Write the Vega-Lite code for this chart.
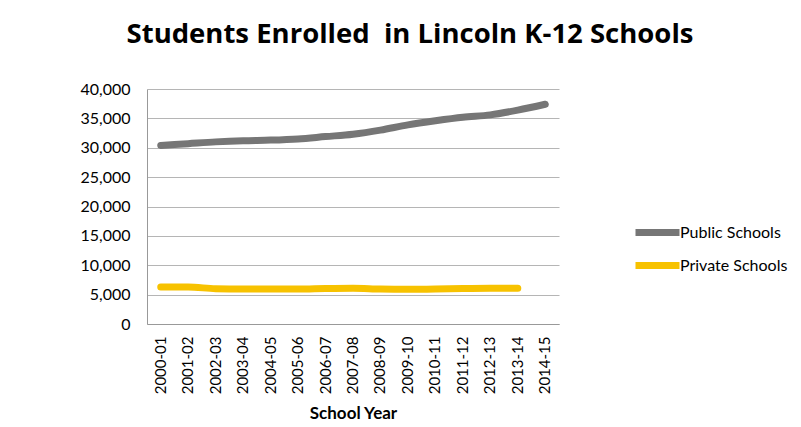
{
  "$schema": "https://vega.github.io/schema/vega-lite/v6.json",
  "width": 412,
  "height": 235,
  "autosize": {"type": "none"},
  "padding": {"left": 147, "top": 89, "right": 242, "bottom": 103},
  "background": "white",
  "title": {
    "text": "Students Enrolled \u00a0in Lincoln K-12 Schools",
    "font": "Open Sans",
    "fontSize": 27.5,
    "fontWeight": "bold",
    "color": "#000000",
    "anchor": "middle",
    "dx": 57,
    "offset": 33
  },
  "config": {
    "view": {"stroke": null},
    "font": "Lato"
  },
  "data": {
    "values": [
      {"year": "2000-01", "series": "Public Schools", "students": 30400},
      {"year": "2001-02", "series": "Public Schools", "students": 30700},
      {"year": "2002-03", "series": "Public Schools", "students": 31000},
      {"year": "2003-04", "series": "Public Schools", "students": 31200},
      {"year": "2004-05", "series": "Public Schools", "students": 31300},
      {"year": "2005-06", "series": "Public Schools", "students": 31500},
      {"year": "2006-07", "series": "Public Schools", "students": 31900},
      {"year": "2007-08", "series": "Public Schools", "students": 32300},
      {"year": "2008-09", "series": "Public Schools", "students": 33000},
      {"year": "2009-10", "series": "Public Schools", "students": 33900},
      {"year": "2010-11", "series": "Public Schools", "students": 34600},
      {"year": "2011-12", "series": "Public Schools", "students": 35200},
      {"year": "2012-13", "series": "Public Schools", "students": 35600},
      {"year": "2013-14", "series": "Public Schools", "students": 36400},
      {"year": "2014-15", "series": "Public Schools", "students": 37400},
      {"year": "2000-01", "series": "Private Schools", "students": 6300},
      {"year": "2001-02", "series": "Private Schools", "students": 6300},
      {"year": "2002-03", "series": "Private Schools", "students": 6000},
      {"year": "2003-04", "series": "Private Schools", "students": 5950},
      {"year": "2004-05", "series": "Private Schools", "students": 5950},
      {"year": "2005-06", "series": "Private Schools", "students": 5950},
      {"year": "2006-07", "series": "Private Schools", "students": 6050},
      {"year": "2007-08", "series": "Private Schools", "students": 6100},
      {"year": "2008-09", "series": "Private Schools", "students": 5950},
      {"year": "2009-10", "series": "Private Schools", "students": 5900},
      {"year": "2010-11", "series": "Private Schools", "students": 5950},
      {"year": "2011-12", "series": "Private Schools", "students": 6050},
      {"year": "2012-13", "series": "Private Schools", "students": 6100},
      {"year": "2013-14", "series": "Private Schools", "students": 6100}
    ]
  },
  "encoding": {
    "x": {
      "field": "year",
      "type": "ordinal",
      "scale": {"type": "band", "paddingInner": 0, "paddingOuter": 0},
      "axis": {
        "title": "School Year",
        "titleFont": "Lato",
        "titleFontSize": 17,
        "titleFontWeight": "bold",
        "titleColor": "#000000",
        "titlePadding": 12,
        "labelAngle": -90,
        "labelFont": "Lato",
        "labelFontSize": 15,
        "labelColor": "#000000",
        "labelPadding": 12,
        "ticks": false,
        "domain": true,
        "domainColor": "#999999",
        "grid": false
      }
    },
    "y": {
      "field": "students",
      "type": "quantitative",
      "scale": {"domain": [0, 40000], "nice": false},
      "axis": {
        "title": null,
        "values": [0, 5000, 10000, 15000, 20000, 25000, 30000, 35000, 40000],
        "format": ",.0f",
        "labelFont": "Lato",
        "labelFontSize": 16,
        "labelColor": "#000000",
        "labelPadding": 17,
        "ticks": false,
        "domain": true,
        "domainColor": "#999999",
        "grid": true,
        "gridColor": "#b5b5b5",
        "gridWidth": 1
      }
    }
  },
  "layer": [
    {
      "transform": [{"filter": "datum.series === 'Public Schools'"}],
      "mark": {"type": "line", "strokeWidth": 7, "strokeCap": "round", "strokeJoin": "round", "interpolate": "monotone"},
      "encoding": {
        "color": {
          "field": "series",
          "type": "nominal",
          "scale": {"domain": ["Public Schools"], "range": ["#767676"]},
          "legend": {
            "title": null,
            "orient": "none",
            "legendX": 485,
            "legendY": 118,
            "symbolType": "stroke",
            "symbolSize": 1936,
            "symbolStrokeWidth": 7,
            "labelFont": "Lato",
            "labelFontSize": 16,
            "labelColor": "#000000",
            "labelOffset": -3
          }
        }
      }
    },
    {
      "transform": [{"filter": "datum.series === 'Private Schools'"}],
      "mark": {"type": "line", "strokeWidth": 7, "strokeCap": "round", "strokeJoin": "round", "interpolate": "monotone"},
      "encoding": {
        "color": {
          "field": "series",
          "type": "nominal",
          "scale": {"domain": ["Private Schools"], "range": ["#f7c200"]},
          "legend": {
            "title": null,
            "orient": "none",
            "legendX": 485,
            "legendY": 151,
            "symbolType": "stroke",
            "symbolSize": 1936,
            "symbolStrokeWidth": 7,
            "labelFont": "Lato",
            "labelFontSize": 16,
            "labelColor": "#000000",
            "labelOffset": -3
          }
        }
      }
    }
  ],
  "resolve": {"scale": {"color": "independent"}, "legend": {"color": "independent"}}
}
